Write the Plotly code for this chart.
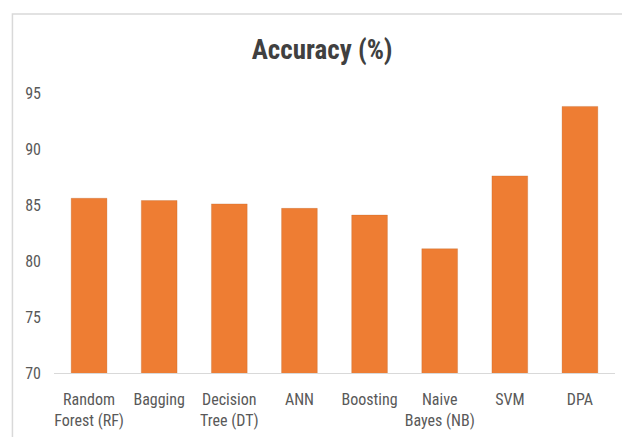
import plotly.graph_objects as go

categories = ["Random<br>Forest (RF)", "Bagging", "Decision<br>Tree (DT)", "ANN",
              "Boosting", "Naive<br>Bayes (NB)", "SVM", "DPA"]
accuracy = [85.6, 85.4, 85.1, 84.7, 84.1, 81.1, 87.6, 93.8]
y_ticks = [70, 75, 80, 85, 90, 95]

W, H = 622, 437
L, R, T, B = 53.6, 7, 92.7, 62
pw = W - L - R
ph = H - T - B

FONT = "Liberation Sans Narrow, Roboto Condensed, Liberation Sans, sans-serif"

fig = go.Figure(go.Bar(
    x=categories, y=accuracy,
    marker=dict(color="#EE7D33", line=dict(color="rgba(180,90,30,0.25)", width=1)),
    base=0,
))

def px_to_paper_x(px):
    return (px - L) / pw

def py_to_paper_y(py):
    return (H - B - py) / ph

fig.update_layout(
    width=W, height=H,
    margin=dict(l=L, r=R, t=T, b=B, pad=0),
    paper_bgcolor="white", plot_bgcolor="white",
    bargap=0.49,
    showlegend=False,
    title=dict(text="<b>Accuracy (%)</b>", x=0.518, xanchor="center",
               y=1 - 50 / H, yanchor="middle",
               font=dict(family=FONT, size=27, color="#404040")),
    xaxis=dict(showgrid=False, showline=True, linecolor="#D9D9D9", linewidth=1,
               ticks="", tickfont=dict(family=FONT, size=16, color="#595959"),
               ticklabelstandoff=12, tickangle=0, zeroline=False),
    yaxis=dict(range=[70, 95], tickvals=y_ticks, showgrid=False, showline=False,
               zeroline=False, ticks="",
               tickfont=dict(family=FONT, size=16, color="#595959"),
               ticklabelstandoff=12),
    shapes=[dict(type="rect", xref="paper", yref="paper",
                 x0=px_to_paper_x(12), x1=px_to_paper_x(640),
                 y0=py_to_paper_y(460), y1=py_to_paper_y(13),
                 line=dict(color="#D9D9D9", width=1.5), fillcolor="rgba(0,0,0,0)",
                 layer="below")],
)

fig.write_html("out.html")
